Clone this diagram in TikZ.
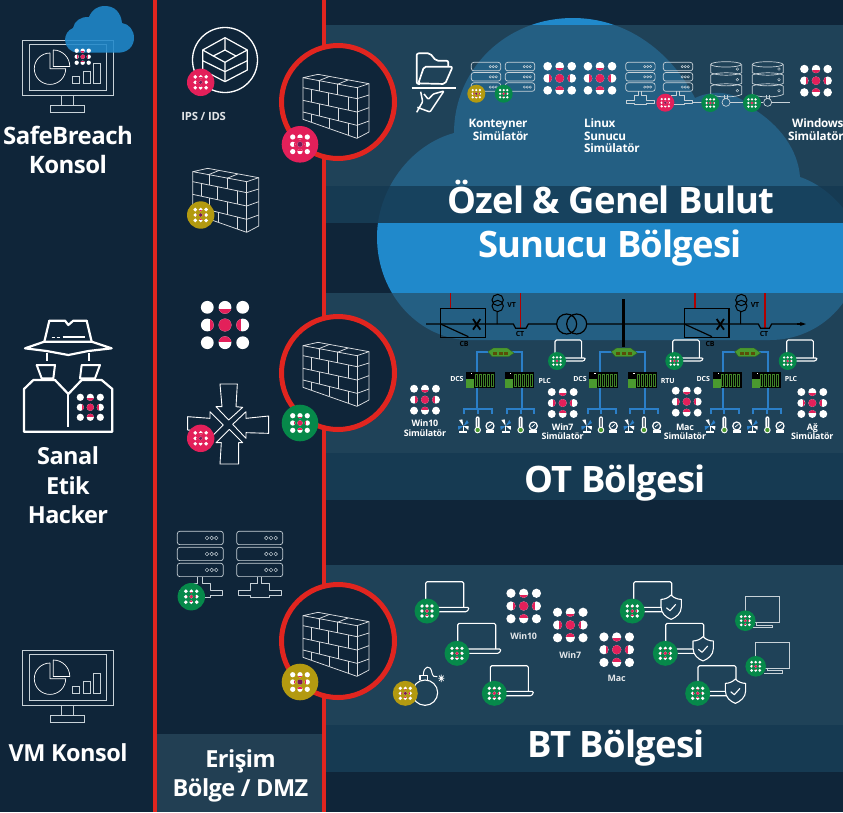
\documentclass[tikz,border=0pt]{standalone}
\usepackage{fontspec}
\setmainfont{Open Sans}[LetterSpace=-2.2]
\usetikzlibrary{arrows.meta}
\definecolor{bgc}{HTML}{0F2539}
\definecolor{lightband}{HTML}{264E66}
\definecolor{midband}{HTML}{173C55}
\definecolor{dmzc}{HTML}{223F53}
\definecolor{cloudc}{HTML}{2089CB}
\definecolor{redl}{HTML}{E1251F}
\definecolor{pinkc}{HTML}{E3205A}
\definecolor{greenc}{HTML}{06894A}
\definecolor{goldc}{HTML}{B39A10}
\definecolor{purplec}{HTML}{7A1A55}
\definecolor{linec}{HTML}{C8D2D8}
\definecolor{btc}{HTML}{1F4259}
\definecolor{bluel}{HTML}{2B7FC8}
\definecolor{ctrlg}{HTML}{4A9A2F}
\tikzset{
  x=1pt,y=-1pt,
  fs/.style={font=\bfseries\fontsize{#1}{#1}\selectfont},
  lbl/.style={text=white,inner sep=0pt,anchor=base,align=center},
  thin line/.style={draw=linec,line width=.7pt,line join=round},
  white line/.style={draw=white,line width=#1,line join=round},
  wall line/.style={draw=white!85!bgc,line width=.75pt,line join=round},
}
% three-by-three mark
\newcommand{\simdots}[5]{%
  \begin{scope}[shift={(#1,#2)},scale=#3]
    \foreach \px in {-17.7,0,17.7}{\foreach \py in {-17.7,0,17.7}{\fill[white] (\px,\py) circle (6.4);}}
    \fill[#5] (0,0) circle (6.4);
    \begin{scope}\clip (0,-17.7) circle (6.4);\fill[#4] (-7,-15.8) rectangle (7,-11.3);\end{scope}
    \begin{scope}\clip (0,17.7) circle (6.4);\fill[#4] (-7,11.3) rectangle (7,16.5);\end{scope}
    \begin{scope}\clip (-17.7,0) circle (6.4);\fill[#4] (-15.5,-7) rectangle (-11.3,7);\end{scope}
    \begin{scope}\clip (17.7,0) circle (6.4);\fill[#4] (11.3,-7) rectangle (15.5,7);\end{scope}
  \end{scope}}
\newcommand{\bigdots}[3]{\simdots{#1}{#2}{#3}{pinkc}{pinkc}}
\newcommand{\anybadge}[5]{%
  \fill[#4] (#1,#2) circle (#3);
  \pgfmathsetmacro{\bsc}{#3*.0225}
  \simdots{#1}{#2}{\bsc}{pinkc}{#5}}
\newcommand{\redb}[3]{\anybadge{#1}{#2}{#3}{pinkc}{purplec}}
\newcommand{\greenb}[3]{\anybadge{#1}{#2}{#3}{greenc}{pinkc}}
\newcommand{\goldb}[3]{\anybadge{#1}{#2}{#3}{goldc}{purplec}}
% brick wall
\newcommand{\icWall}[2]{%
  \begin{scope}[shift={(#1,#2)},scale=1/3,shift={(-205,-185)}]
    \draw[wall line] (100,115)--(145,105)--(298,133)--(262,145)--cycle;
    \draw[wall line] (100,115)--(100,240)--(262,297)--(298,278)--(298,133);
    \draw[wall line] (262,145)--(262,297);
    \draw[wall line] (100,145)--(262,178)--(298,167);
    \draw[wall line] (100,183)--(262,218)--(298,205);
    \draw[wall line] (100,218)--(262,258)--(298,245);
    \draw[wall line] (150,124)--(150,155) (203,134)--(203,166);
    \draw[wall line] (125,150)--(125,188) (175,160)--(175,199) (235,172)--(235,213);
    \draw[wall line] (150,193)--(150,230) (205,206)--(205,244);
    \draw[wall line] (125,224)--(125,249) (178,237)--(178,267) (235,252)--(235,287);
    \draw[wall line] (145,125)--(180,111) (203,135)--(235,122);
  \end{scope}}
% monitor with charts
\newcommand{\icMonitor}[1]{%
  \begin{scope}[yshift=-#1pt]
    \draw[linec,line width=.9pt] (22.7,40) rectangle (113.3,95.3);
    \draw[linec,line width=.9pt] (29.3,44.3) rectangle (106.7,90.3);
    \draw[linec,line width=.9pt] (61,95.3) rectangle (73.7,105.3);
    \draw[linec,line width=.9pt] (50.3,105.3) rectangle (84.3,112.3);
    \draw[white line=.7pt] (50,53) arc[start angle=-90,end angle=-360,radius=15.7] -- (50,68.7) -- cycle;
    \draw[white line=.7pt] (53.3,50) arc[start angle=-90,end angle=0,radius=16.5] -- (53.3,66.5) -- cycle;
    \draw[linec,line width=.8pt] (72.7,76.7) rectangle (79.3,83.3) (83.3,71.7) rectangle (90.3,83.3) (93.3,63) rectangle (100.3,83.3);
  \end{scope}}
% laptop, px coordinates
\newcommand{\icLaptopBody}{%
  \draw[white line=1.1pt,rounded corners=1.5pt] (0,26)--(0,0)--(38,0)--(38,25.7);
  \draw[white line=1.1pt,rounded corners=1pt] (4,25.7)--(43,25.7)--(43,27.5)--(41,30)--(7,30);}
\newcommand{\icLaptop}[3]{\begin{scope}[shift={(#1,#2)},scale=#3]\icLaptopBody\end{scope}}
\newcommand{\icShieldLaptop}[2]{%
  \begin{scope}[shift={(#1,#2)}]\icLaptopBody\end{scope}
  \begin{scope}[shift={(#1,#2)},scale=1/3,shift={(-731,-35)}]
    \draw[white line=1.1pt,fill=btc] (843,75) .. controls (852,84) and (863,88) .. (874,88) -- (874,110) .. controls (874,130) and (858,142) .. (843,148) .. controls (828,142) and (813,130) .. (813,110) -- (813,88) .. controls (825,88) and (835,83) .. (843,75) -- cycle;
    \draw[white line=1.1pt] (829,113)--(840,122)--(857,103);
  \end{scope}}
\newcommand{\icDesktop}[2]{%
  \begin{scope}[shift={(#1,#2)},scale=1/3,shift={(-1066,-80)}]
    \draw[linec,line width=.9pt] (1066,80) rectangle (1167,157);
    \draw[linec,line width=.9pt] (1100,157)--(1100,165)--(1147,165)--(1147,172)--(1090,172);
  \end{scope}}
% server rack, coordinates are 3x px with origin at its top-left
\newcommand{\icServer}[4]{%
  \begin{scope}[shift={(#1,#2)},scale=#3/3,shift={(-260,-64)}]
    \foreach \ry in {64,112,160}{%
      \draw[thin line,rounded corners=2.5pt] (260,\ry) rectangle (398,\ry+40);
      \foreach \cx in {349,363,377}{\draw[linec,line width=.45pt] (\cx,\ry+20) circle (5.5);}}
    \ifnum#4=1
      \draw[thin line] (321,200)--(321,220)--(300,220)--(300,240)--(265,240)--(265,256)--(300,256)--(300,262)--(358,262)--(358,256)--(395,256)--(395,240)--(358,240)--(358,220)--(335,220)--(335,200);
    \fi
  \end{scope}}
\newcommand{\icDB}[2]{%
  \begin{scope}[shift={(#1,#2)},scale=1/3,shift={(-932,-125)}]
    \draw[thin line] (978,133) ellipse (46 and 8);
    \foreach \dy in {133,165,198}{%
      \draw[thin line] (932,\dy)--(932,\dy+25) .. controls (950,\dy+35) and (1007,\dy+35) .. (1025,\dy+25)--(1025,\dy);
      \draw[linec,line width=.45pt] (1012,\dy+14) circle (4);}
    \draw[thin line] (932,165) .. controls (950,156) and (1007,156) .. (1025,165);
    \draw[thin line] (932,198) .. controls (950,189) and (1007,189) .. (1025,198);
    \draw[thin line] (973,226)--(973,236) (983,226)--(983,236);
    \draw[thin line] (978,247) circle (12);
  \end{scope}}
% OT cell: drawn in 3x coordinates of a group
\newcommand{\icFan}[2]{%
  \begin{scope}[shift={(#1,#2)}]
    \fill[white] (0,0)--(-13,-18)--(-3,-20)--cycle (0,0)--(15,12)--(16,0)--cycle;
    \fill[bluel] (0,0)--(11,-18)--(16,-9)--cycle (0,0)--(-15,12)--(-16,0)--cycle;
    \fill[white] (-12,16) rectangle (12,22);
    \draw[white,line width=1pt] (0,0)--(0,18);
  \end{scope}}
\newcommand{\icTherm}[2]{%
  \begin{scope}[shift={(#1,#2)}]
    \fill[white,rounded corners=2pt] (-6,-26) rectangle (6,10);
    \fill[bgc!60!white] (-2,-20) rectangle (2,8);
    \fill[white] (0,15) circle (10);
    \fill[ctrlg] (0,15) circle (6.5);
  \end{scope}}
\newcommand{\icGauge}[2]{%
  \begin{scope}[shift={(#1,#2)}]
    \fill[white] (-12,13) rectangle (12,21);
    \fill[white] (0,0) circle (14);
    \fill[btc] (0,0) circle (9.5);
    \draw[white,line width=.7pt] (-5,3)--(5,-5);
  \end{scope}}
\newcommand{\icCtrl}[1]{%
  \begin{scope}[xshift=#1pt]
    \fill[black] (198,260) rectangle (285,308);
    \fill[ctrlg] (198,282) rectangle (222,308);
    \fill[white] (213,263) rectangle (217,268);
    \foreach \mx in {224,236,248,260,272}{\fill[ctrlg!85!black] (\mx,268) rectangle (\mx+9,306);\fill[black] (\mx+3,270) rectangle (\mx+5,304);}
  \end{scope}}
\newcommand{\icOT}[1]{%
  \begin{scope}[shift={(400+#1,285)},scale=1/3]
    \draw[bluel,line width=1.9pt] (230,372)--(230,200)--(365,200)--(365,372);
    \draw[bluel,line width=1.9pt] (193,388)--(193,372)--(277,372)--(277,388) (233,372)--(233,388);
    \draw[bluel,line width=1.9pt] (320,388)--(320,372)--(403,372)--(403,388) (362,372)--(362,388);
    \fill[ctrlg,draw=ctrlg!60!black,line width=.3pt] (264,200)--(280,189)--(322,189)--(342,204)--(326,215)--(276,215)--cycle;
    \foreach \tx in {285,302,319}{\fill[black!50!goldc] (\tx-6,202) rectangle (\tx+6,209);}
    \icCtrl{0}\icCtrl{117}
    \icFan{190}{423}\icTherm{233}{420}\icGauge{270}{423}
    \icFan{317}{423}\icTherm{362}{420}\icGauge{400}{423}
  \end{scope}}
\begin{document}
\begin{tikzpicture}
\path[use as bounding box,clip] (0,0) rectangle (843,812);
\fill[bgc] (0,0) rectangle (843,812);
% large cloud
\fill[cloudc] (377,237) .. controls (377,190) and (410,145) .. (454,133)
  .. controls (454,70) and (505,18) .. (573,18)
  .. controls (625,18) and (670,50) .. (695,98)
  .. controls (712,90) and (735,90) .. (752,108)
  .. controls (780,125) and (798,150) .. (800,177)
  .. controls (830,187) and (860,220) .. (860,250)
  .. controls (860,300) and (820,340) .. (770,340)
  -- (470,340)
  .. controls (420,340) and (377,295) .. (377,237) -- cycle;
% bands
\foreach \ta/\tb in {25/186,293/453,565/725}{\fill[lightband,fill opacity=.71] (326,\ta) rectangle (843,\tb);}
\foreach \ta/\tb in {186/223,453/500,725/772}{\fill[midband,fill opacity=.92] (326,\ta) rectangle (843,\tb);}
\fill[dmzc] (157,734) rectangle (322,812);
% zone lines
\draw[redl,line width=4pt] (155,0)--(155,812) (323.7,0)--(323.7,812);
% firewalls
\foreach \fy in {102,373,641}{\draw[redl,line width=5pt,fill=bgc] (338,\fy) circle (56.5);}
\icWall{338}{101}\icWall{338}{369}\icWall{338}{639}
\redb{300}{144.3}{18.3}
\greenb{300}{423}{18.3}
\goldb{300}{682}{18.3}
% left column
\icMonitor{0}
\fill[cloudc,fill opacity=.88] (78,52.7) -- (118,52.7) .. controls (128,52.7) and (134,46) .. (134,38) .. controls (134,30) and (129,24) .. (122,23) .. controls (121,13) and (115,6) .. (105,6) .. controls (97,6) and (92,10) .. (89,17) .. controls (82,16) and (74,21) .. (73,28) .. controls (68,30) and (65,35) .. (65,40) .. controls (65,47) and (71,52.7) .. (78,52.7) -- cycle;
\bigdots{82.7}{56.7}{.34}
\node[lbl,fs=24] (sb1) at (68,144) {SafeBreach};
\node[lbl,fs=24] (sb2) at (68,173.7) {Konsol};
% spy
\begin{scope}[shift={(0,290)},scale=1/3]
  \draw[white line=2.2pt] (133,155)--(148,92)--(195,92)--(205,105)--(220,92)--(260,92)--(275,155);
  \draw[white line=2.2pt] (75,175)--(133,155)--(275,155)--(335,175)--(265,183)--(205,195)--(140,183)--cycle;
  \draw[white,line width=1.6pt] (155,142)--(165,142) (170,142)--(180,142);
  \draw[white,line width=1.8pt] (188,142)--(255,142);
  \draw[white line=2pt] (140,188)--(140,212) (267,188)--(267,212);
  \draw[white line=2pt] (110,225)--(165,225)--(160,265)--(125,265)--cycle;
  \draw[white line=2pt] (300,225)--(245,225)--(240,265)--(285,265)--cycle;
  \draw[white line=2.2pt] (72,425)--(72,297)--(100,270)--(165,270)--(205,312)--(245,270)--(305,270)--(337,297)--(337,425)--cycle;
  \draw[white line=2.2pt] (205,312)--(205,410);
\end{scope}
\bigdots{90.3}{407.3}{.565}
\node[lbl,fs=23.5] (sp1) at (68,464) {Sanal};
\node[lbl,fs=23.5] (sp2) at (68,494) {Etik};
\node[lbl,fs=23.5] (sp3) at (68,523) {Hacker};
\icMonitor{610}
\node[lbl,fs=23.5] (vm) at (68,761.7) {VM Konsol};
% DMZ column
\draw[white line=1.3pt] (225,60) circle (32.5);
\begin{scope}[scale=1/3]
  \draw[white line=1.2pt] (608,150)--(675,113)--(742,150)--(742,210)--(675,245)--(608,210)--cycle;
  \draw[white line=1.2pt] (640,168)--(675,150)--(708,168)--(675,187)--cycle;
  \draw[white line=1.2pt] (675,113)--(675,150) (608,150)--(640,168) (742,150)--(708,168) (675,187)--(675,245);
  \draw[white line=1.2pt] (608,182)--(675,215)--(742,182);
\end{scope}
\redb{200.7}{82.3}{13.7}
\node[lbl,fs=11.3,text=white!88!bgc] (ips) at (203.7,120) {IPS / IDS};
\icWall{227.7}{195}
\goldb{200.7}{215}{13.7}
\bigdots{225}{325}{1}
\begin{scope}[shift={(0,290)},scale=1/3]
  \draw[white line=.9pt] (660,282)--(712,282)--(708,350)--(728,352)--(686,390)--(648,350)--(666,350)--cycle;
  \draw[white line=.9pt] (660,522)--(716,522)--(716,458)--(728,458)--(688,418)--(648,458)--(664,458)--cycle;
  \draw[white line=.9pt] (563,380)--(630,385)--(630,365)--(670,405)--(630,445)--(630,425)--(563,420)--cycle;
  \draw[white line=.9pt] (806,378)--(738,385)--(738,365)--(698,403)--(738,445)--(738,428)--(806,430)--cycle;
\end{scope}
\redb{200.7}{438.3}{13.7}
\icServer{177.3}{531.3}{1}{1}
\icServer{236.7}{531.3}{1}{1}
\greenb{191.3}{596.7}{13.7}
\node[lbl,fs=23.5] (dmz1) at (240.5,767.7) {Erişim};
\node[lbl,fs=23.5] (dmz2) at (240.5,796.7) {Bölge / DMZ};
% cloud zone
\begin{scope}[shift={(400,20)},scale=1/3]
  \draw[white line=1.7pt,rounded corners=2pt] (60,192)--(50,192)--(50,100)--(90,100)--(108,122)--(145,122)--(145,140);
  \draw[white line=1.7pt,rounded corners=2pt] (55,190)--(72,140)--(158,140)--(135,192)--cycle;
  \draw[white,line width=1.8pt] (35,203)--(167,203);
  \draw[white line=1.5pt,rounded corners=1pt] (62,215)--(68,245)--(50,277) (52,262)--(90,276)--(132,213)--(100,222)--(85,238)--(72,222);
\end{scope}
\icServer{471.3}{62.3}{.64}{0}
\icServer{505.3}{62.3}{.64}{0}
\goldb{476.3}{93.7}{9}
\greenb{503.7}{93.7}{9}
\bigdots{559.7}{78.3}{.68}
\bigdots{600}{78.3}{.68}
\icServer{625.7}{62.3}{.64}{1}
\icServer{663.3}{62.3}{.64}{1}
\redb{665.3}{102.7}{9}
\draw[thin line] (692,102.3)--(703,102.3) (730,102.3)--(763,102.3) (771,102.3)--(790,102.3);
\icDB{710.7}{61.7}
\icDB{752.3}{61.7}
\greenb{710.3}{103}{9}
\greenb{752}{103}{9}
\bigdots{816}{80.7}{.66}
\node[lbl,fs=11.7] (k1) at (498,127) {Konteyner};
\node[lbl,fs=11.7,anchor=base east] (k2) at (528.5,140) {Simülatör};
\node[lbl,fs=11.7,anchor=base west] (l1) at (584,127) {Linux};
\node[lbl,fs=11.7,anchor=base west] (l2) at (584,140) {Sunucu};
\node[lbl,fs=11.7,anchor=base west] (l3) at (584,152.7) {Simülatör};
\node[lbl,fs=11.7,anchor=base west] (w1) at (792,127) {Windows};
\node[lbl,fs=11.7,anchor=base west] (w2) at (788,140) {Simülatör};
\node[lbl,fs=36.4] (t1) at (611,213) {Özel \& Genel Bulut};
\node[lbl,fs=36.4] (t2) at (610,257.3) {Sunucu Bölgesi};
% OT zone
\begin{scope}[shift={(400,285)},scale=1/3]
  \draw[red!70!black,line width=1.2pt] (152,25)--(152,70) (362,25)--(362,130) (885,25)--(885,70) (1095,25)--(1095,130);
  \draw[black,line width=1.2pt] (78,117)--(340,117)--(347,130)--(378,130)--(385,117)--(470,117);
  \draw[black,line width=1.2pt] (560,117)--(1075,117)--(1082,130)--(1108,130)--(1115,117)--(1200,117);
  \draw[black,line width=1.2pt,-{Stealth[length=6pt,width=4pt]}] (1190,117)--(1218,117);
  \draw[black,line width=1.2pt] (500,117) circle (30) (530,117) circle (30);
  \foreach \gx in {0,731}{
    \begin{scope}[xshift=\gx pt]
      \draw[black,line width=1.2pt] (122,70) rectangle (256,157);
      \draw[black,line width=1.2pt] (122,117)--(205,155);
      \draw[black,line width=1.8pt] (219,102)--(241,134) (241,102)--(219,134);
      \draw[black,line width=1pt] (293,45) circle (17) (293,63) circle (17) (291,80)--(291,117);
    \end{scope}}
\end{scope}
\node[lbl,fs=7,text=black] (vta) at (511.7,307) {VT};
\node[lbl,fs=7,text=black] (vtb) at (755,307) {VT};
\node[lbl,fs=7,text=black] (cta) at (520,336.7) {CT};
\node[lbl,fs=7,text=black] (ctb) at (764,336.7) {CT};
\node[lbl,fs=7,text=black] (cba) at (464,346.7) {CB};
\node[lbl,fs=7,text=black] (cbb) at (710,346.7) {CB};
\icOT{0}\icOT{123.3}\icOT{246.7}
\draw[black,line width=3pt] (623.3,299)--(623.3,346.7);
\icLaptop{555}{340}{.7}\greenb{557}{361}{9}
\icLaptop{672.7}{340}{.7}\greenb{674.3}{361}{9}
\icLaptop{786.7}{340}{.7}\greenb{787.7}{361}{9}
\node[lbl,fs=7] (d1) at (457,381.7) {DCS};
\node[lbl,fs=7] (p1) at (544.7,383) {PLC};
\node[lbl,fs=7] (d2) at (580,381.7) {DCS};
\node[lbl,fs=7] (r1) at (667.7,383) {RTU};
\node[lbl,fs=7] (d3) at (703.3,381.7) {DCS};
\node[lbl,fs=7] (p2) at (791,381.7) {PLC};
\bigdots{425}{399.7}{.62}
\node[lbl,fs=8.9] (a1) at (425,426.7) {Win10};
\node[lbl,fs=8.9] (a2) at (425,436.7) {Simülatör};
\bigdots{562.7}{403}{.62}
\node[lbl,fs=8.9] (a3) at (562.7,430.7) {Win7};
\node[lbl,fs=8.9] (a4) at (562.7,439.7) {Simülatör};
\bigdots{686.7}{401.7}{.62}
\node[lbl,fs=8.9] (a5) at (685,430.7) {Mac};
\node[lbl,fs=8.9] (a6) at (685,439.7) {Simülatör};
\bigdots{812.3}{403}{.62}
\node[lbl,fs=8.9] (a7) at (812.3,430.7) {Ağ};
\node[lbl,fs=8.9] (a8) at (812.3,439.7) {Simülatör};
\node[lbl,fs=36.4] (t3) at (615,492.7) {OT Bölgesi};
% BT zone
\icLaptop{425.7}{581.7}{1}\greenb{427}{611}{12.5}
\icLaptop{457.7}{623.3}{1}\greenb{457}{653.3}{12.5}
\icLaptop{490.3}{665.7}{1}\greenb{494.3}{693.3}{12.5}
\icShieldLaptop{633.7}{581.7}\greenb{632.3}{611}{12.5}
\icShieldLaptop{665.7}{623.3}\greenb{665.3}{653.3}{12.5}
\icShieldLaptop{698}{665.7}\greenb{697.7}{693.3}{12.5}
\icDesktop{745.3}{596.7}\greenb{745.3}{620.7}{10.3}
\icDesktop{755.7}{642.3}\greenb{755.7}{666.3}{10.3}
\bigdots{523.7}{606}{.72}
\node[lbl,fs=8.9,text=white!88!btc] (b1) at (523.7,639) {Win10};
\bigdots{570.3}{625}{.72}
\node[lbl,fs=8.9,text=white!88!btc] (b2) at (570.3,658) {Win7};
\bigdots{616.7}{649.7}{.72}
\node[lbl,fs=8.9,text=white!88!btc] (b3) at (616.7,681.7) {Mac};
\begin{scope}[shift={(390,570)},scale=1/3]
  \draw[white line=1.1pt] (105,368) circle (38);
  \draw[white line=1.1pt] (90,330)--(90,316)--(112,316)--(112,330);
  \draw[white line=1pt] (100,316) .. controls (100,285) and (122,285) .. (125,305) .. controls (127,320) and (135,322) .. (142,320);
  \draw[white,line width=.7pt] (145,325)--(163,325) (154,314)--(154,336) (147,317)--(161,333) (161,317)--(147,333);
\end{scope}
\goldb{405.3}{693.3}{12.5}
\node[lbl,fs=36.4] (t4) at (616,757.7) {BT Bölgesi};
\end{tikzpicture}
\end{document}
